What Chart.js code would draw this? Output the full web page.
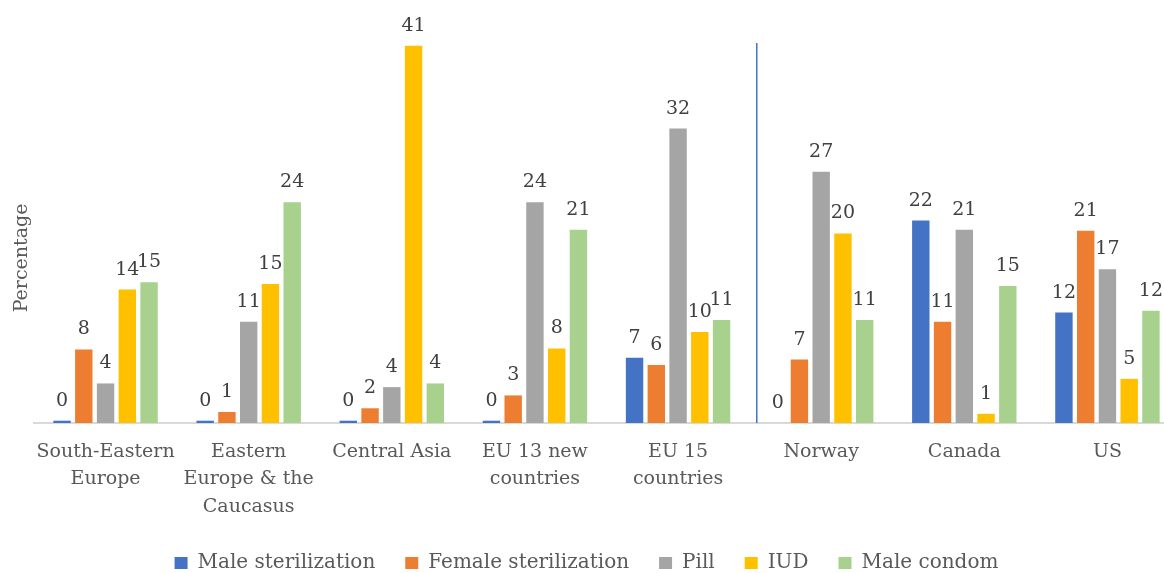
<!DOCTYPE html>
<html><head><meta charset="utf-8">
<script src="https://cdn.jsdelivr.net/npm/chart.js@4.4.0/dist/chart.umd.min.js"></script>
<style>html,body{margin:0;padding:0;background:#fff;overflow:hidden;width:1164px;height:573px}#wrap{width:1179px;height:583px}</style>
</head><body><div id="wrap"><canvas id="c" width="1179" height="583"></canvas></div>
<script>
const categories = [["South-Eastern","Europe"],["Eastern","Europe & the","Caucasus"],"Central Asia",["EU 13 new","countries"],["EU 15","countries"],"Norway","Canada","US"];
const seriesNames = ["Male sterilization","Female sterilization","Pill","IUD","Male condom"];
const seriesColors = ["#4472C4","#ED7D31","#A5A5A5","#FFC000","#A9D18E"];

const maleSterilization   = [0.25, 0.25, 0.25, 0.25, 7.1, 0, 22.0, 12.0];
const femaleSterilization = [8.0, 1.2, 1.6, 3.0, 6.3, 6.9, 11.0, 20.9];
const pill                = [4.3, 11.0, 3.9, 24.0, 32.0, 27.3, 21.0, 16.7];
const iud                 = [14.5, 15.1, 41.0, 8.1, 9.9, 20.6, 1.0, 4.8];
const maleCondom          = [15.3, 24.0, 4.3, 21.0, 11.2, 11.2, 14.9, 12.2];

const maleSterilizationLabels   = [0, 0, 0, 0, 7, 0, 22, 12];
const femaleSterilizationLabels = [8, 1, 2, 3, 6, 7, 11, 21];
const pillLabels                = [4, 11, 4, 24, 32, 27, 21, 17];
const iudLabels                 = [14, 15, 41, 8, 10, 20, 1, 5];
const maleCondomLabels          = [15, 24, 4, 21, 11, 11, 15, 12];

const dividerAt = 4.55;   // category position of the separator line
const dividerTop = 41.3;  // value at the top of the separator line
const yAxisTitle = "Percentage";

const seriesValues = [maleSterilization, femaleSterilization, pill, iud, maleCondom];
const seriesLabels = [maleSterilizationLabels, femaleSterilizationLabels, pillLabels, iudLabels, maleCondomLabels];

const FONT = "'DejaVu Serif', serif";

const valueLabelPlugin = {
  id: 'valueLabels',
  afterDatasetsDraw(chart) {
    const ctx = chart.ctx;
    ctx.save();
    ctx.font = "19px " + FONT;
    ctx.fillStyle = "#404040";
    ctx.textAlign = "center";
    ctx.textBaseline = "alphabetic";
    chart.data.datasets.forEach((ds, di) => {
      const meta = chart.getDatasetMeta(di);
      meta.data.forEach((el, i) => {
        ctx.fillText(String(seriesLabels[di][i]), el.x, el.y - 15);
      });
    });
    ctx.restore();
  }
};

const dividerPlugin = {
  id: 'divider',
  afterDatasetsDraw(chart) {
    const x = chart.scales.x.getPixelForValue(dividerAt);
    const yTop = chart.scales.y.getPixelForValue(dividerTop);
    const yBot = chart.scales.y.getPixelForValue(0);
    const ctx = chart.ctx;
    ctx.save();
    ctx.strokeStyle = "#4472C4";
    ctx.lineWidth = 1.5;
    ctx.beginPath();
    ctx.moveTo(x, yTop);
    ctx.lineTo(x, yBot);
    ctx.stroke();
    ctx.restore();
  }
};

const yTitlePlugin = {
  id: 'yTitle',
  afterDraw(chart) {
    const ctx = chart.ctx;
    ctx.save();
    ctx.font = "19px " + FONT;
    ctx.fillStyle = "#595959";
    ctx.textAlign = "center";
    ctx.textBaseline = "middle";
    ctx.translate(22, 258);
    ctx.rotate(-Math.PI / 2);
    ctx.fillText(yAxisTitle, 0, 0);
    ctx.restore();
  }
};

const layoutTweakPlugin = {
  id: 'layoutTweak',
  afterLayout(chart) {
    if (chart.legend) { chart.legend.left -= 20; chart.legend.right -= 20; }
    // let the multi-line category labels draw past the trimmed axis box
    chart.scales.x.bottom = chart.height;
  }
};

new Chart(document.getElementById('c'), {
  type: 'bar',
  data: {
    labels: categories,
    datasets: seriesNames.map((n, i) => ({
      label: n,
      data: seriesValues[i],
      backgroundColor: seriesColors[i],
      borderWidth: 0,
      categoryPercentage: 0.76,
      barPercentage: 0.8
    }))
  },
  options: {
    responsive: false,
    devicePixelRatio: 1,
    animation: false,
    layout: { padding: { left: 34, right: 0, top: 9, bottom: 0 } },
    scales: {
      x: {
        grid: { display: false, drawTicks: false },
        border: { display: true, color: "#D9D9D9", width: 2 },
        ticks: {
          color: "#595959",
          font: { family: FONT, size: 19, lineHeight: 1.45 },
          padding: 15,
          maxRotation: 0,
          autoSkip: false
        },
        afterFit(scale) { scale.height = 100; }
      },
      y: {
        display: false,
        min: 0,
        max: 45
      }
    },
    plugins: {
      legend: {
        position: 'bottom',
        labels: {
          color: "#595959",
          font: { family: FONT, size: 20 },
          boxWidth: 13,
          boxHeight: 12,
          padding: 30
        }
      },
      tooltip: { enabled: false }
    }
  },
  plugins: [valueLabelPlugin, dividerPlugin, yTitlePlugin, layoutTweakPlugin]
});
</script>
</body></html>
